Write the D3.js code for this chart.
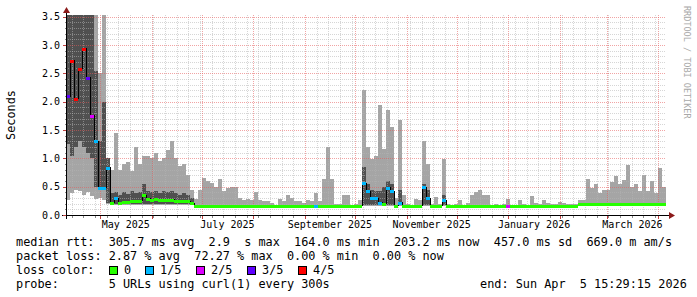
<!DOCTYPE html>
<html>
<head>
<meta charset="utf-8">
<script src="https://cdn.jsdelivr.net/npm/d3@7"></script>
<style>
  body { margin: 0; background: #fff; }
  text { font-family: "DejaVu Sans Mono", monospace; }
</style>
</head>
<body>
<div class="container"></div>
<script>
// Size of frame
const width = 697;
const height = 297;
// Plot box
const plotLeft = 66;
const plotRight = 666;
const plotTop = 15;
const plotBottom = 215;
// Fonts
const axisFont = 10;
const legendFont = 11.85;

// Time window: last 360 days up to the end stamp
const endTime = new Date(2026, 3, 5, 15, 29, 15);
const spanDays = 360;
const yMax = 3.53;

// 150 bins of 2.4 days each, seconds
const smokeHi = [
  3.53, 3.53, 3.53, 3.53, 3.53, 3.53, 3.53, 3.53, 2.5, 3.53,
  1.0, 0.8, 1.45, 0.8, 0.9, 0.93, 0.78, 1.2, 0.9, 1.05,
  1.05, 1.0, 1.1, 0.95, 1.0, 1.15, 1.3, 1.0, 0.86, 0.9,
  0.7, 0.45, 0.28, 0.45, 0.65, 0.6, 0.56, 0.5, 0.64, 0.43,
  0.47, 0.5, 0.5, 0.3, 0.26, 0.28, 0.26, 0.41, 0.26, 0.25,
  0.24, 0.21, 0.17, 0.28, 0.24, 0.35, 0.3, 0.24, 0.25, 0.22,
  0.26, 0.25, 0.38, 0.24, 0.64, 1.2, 0.64, 0.2, 0.2, 0.36,
  0.36, 0.18, 0.2, 0.26, 2.2, 1.2, 0.98, 1.05, 1.95, 1.17,
  1.85, 1.56, 0.3, 1.68, 0.35, 0.2, 0.17, 0.28, 0.26, 1.3,
  0.9, 0.2, 0.32, 0.2, 0.98, 0.2, 0.17, 0.2, 0.26, 0.17,
  0.22, 0.35, 0.4, 0.45, 0.36, 0.35, 0.18, 0.19, 0.18, 0.19,
  0.28, 0.18, 0.17, 0.26, 0.19, 0.18, 0.33, 0.22, 0.2, 0.26,
  0.21, 0.19, 0.2, 0.23, 0.22, 0.19, 0.2, 0.19, 0.26, 0.26,
  0.63, 0.48, 0.55, 0.38, 0.45, 0.45, 0.59, 0.68, 0.55, 0.62,
  0.88, 0.5, 0.55, 0.42, 0.7, 0.42, 0.6, 0.38, 0.83, 0.5
];
// Dark smoke band (0 = none)
const darkHi = [
  3.53, 3.53, 3.53, 3.53, 3.53, 3.53, 3.53, 2.55, 1.3, 2.0,
  1.0, 0.38, 0.4, 0.36, 0.4, 0.37, 0.42, 0.38, 0.4, 0.55,
  0.42, 0.4, 0.42, 0.38, 0.42, 0.4, 0.42, 0.38, 0.36, 0.38,
  0.35, 0.3, 0, 0, 0, 0, 0, 0, 0, 0,
  0, 0, 0, 0, 0, 0, 0, 0, 0, 0,
  0, 0, 0, 0, 0, 0, 0, 0, 0, 0,
  0, 0, 0, 0, 0, 0, 0, 0, 0, 0,
  0, 0, 0, 0, 0.85, 0.55, 0.45, 0.42, 0.42, 0.5,
  0.6, 0.55, 0, 0.45, 0, 0, 0, 0, 0, 0.55,
  0.45, 0, 0, 0, 0.35, 0, 0, 0, 0, 0,
  0, 0, 0, 0, 0, 0, 0, 0, 0, 0,
  0, 0, 0, 0, 0, 0, 0, 0, 0, 0,
  0, 0, 0, 0, 0, 0, 0, 0, 0, 0,
  0, 0, 0, 0, 0, 0, 0, 0, 0, 0,
  0, 0, 0, 0, 0, 0, 0, 0, 0, 0
];
const darkLo = [
  1.25, 1.05, 1.2, 1.3, 1.2, 1.1, 1.0, 0.5, 0.45, 0.45,
  0.22, 0.19, 0.19, 0.19, 0.19, 0.19, 0.19, 0.19, 0.19, 0.19,
  0.19, 0.19, 0.19, 0.19, 0.19, 0.19, 0.19, 0.19, 0.19, 0.19,
  0.19, 0.19, 0, 0, 0, 0, 0, 0, 0, 0,
  0, 0, 0, 0, 0, 0, 0, 0, 0, 0,
  0, 0, 0, 0, 0, 0, 0, 0, 0, 0,
  0, 0, 0, 0, 0, 0, 0, 0, 0, 0,
  0, 0, 0, 0, 0.18, 0.18, 0.18, 0.18, 0.18, 0.18,
  0.18, 0.18, 0, 0.18, 0, 0, 0, 0, 0, 0.18,
  0.18, 0, 0, 0, 0.18, 0, 0, 0, 0, 0,
  0, 0, 0, 0, 0, 0, 0, 0, 0, 0,
  0, 0, 0, 0, 0, 0, 0, 0, 0, 0,
  0, 0, 0, 0, 0, 0, 0, 0, 0, 0,
  0, 0, 0, 0, 0, 0, 0, 0, 0, 0,
  0, 0, 0, 0, 0, 0, 0, 0, 0, 0
];
const smokeLo = [
  0.26, 0.38, 0.45, 0.42, 0.35, 0.4, 0.33, 0.28, 0.3, 0.26,
  0.2, 0.17, 0.17, 0.17, 0.17, 0.17, 0.17, 0.17, 0.17, 0.17,
  0.17, 0.17, 0.17, 0.17, 0.17, 0.17, 0.17, 0.17, 0.17, 0.17,
  0.17, 0.17, 0.155, 0.155, 0.155, 0.155, 0.155, 0.155, 0.155, 0.155,
  0.155, 0.155, 0.155, 0.155, 0.155, 0.155, 0.155, 0.155, 0.155, 0.155,
  0.155, 0.155, 0.155, 0.155, 0.155, 0.155, 0.155, 0.155, 0.155, 0.155,
  0.155, 0.155, 0.155, 0.155, 0.155, 0.155, 0.155, 0.155, 0.155, 0.155,
  0.155, 0.155, 0.155, 0.155, 0.155, 0.155, 0.155, 0.155, 0.155, 0.155,
  0.155, 0.155, 0.155, 0.155, 0.155, 0.155, 0.155, 0.155, 0.155, 0.155,
  0.155, 0.155, 0.155, 0.155, 0.155, 0.155, 0.155, 0.155, 0.155, 0.155,
  0.155, 0.155, 0.155, 0.155, 0.155, 0.155, 0.155, 0.155, 0.155, 0.155,
  0.155, 0.155, 0.155, 0.155, 0.155, 0.155, 0.155, 0.155, 0.155, 0.155,
  0.155, 0.155, 0.155, 0.155, 0.155, 0.155, 0.155, 0.155, 0.185, 0.185,
  0.185, 0.185, 0.185, 0.185, 0.185, 0.185, 0.185, 0.185, 0.185, 0.185,
  0.185, 0.185, 0.185, 0.185, 0.185, 0.185, 0.185, 0.185, 0.185, 0.185
];
const median = [
  2.1, 2.72, 2.05, 2.58, 2.93, 2.42, 1.75, 1.3, 0.48, 0.48,
  0.83, 0.22, 0.3, 0.22, 0.23, 0.23, 0.24, 0.25, 0.25, 0.35,
  0.29, 0.27, 0.28, 0.26, 0.27, 0.26, 0.27, 0.25, 0.24, 0.25,
  0.24, 0.21, 0.165, 0.165, 0.165, 0.165, 0.165, 0.165, 0.165, 0.165,
  0.165, 0.165, 0.165, 0.165, 0.165, 0.165, 0.165, 0.165, 0.165, 0.165,
  0.165, 0.165, 0.165, 0.165, 0.165, 0.165, 0.165, 0.165, 0.165, 0.165,
  0.165, 0.165, 0.165, 0.165, 0.165, 0.165, 0.165, 0.165, 0.165, 0.165,
  0.165, 0.165, 0.165, 0.165, 0.56, 0.42, 0.3, 0.3, 0.22, 0.2,
  0.48, 0.42, 0.165, 0.22, 0.165, 0.165, 0.165, 0.165, 0.165, 0.49,
  0.3, 0.165, 0.165, 0.165, 0.26, 0.165, 0.165, 0.165, 0.165, 0.165,
  0.165, 0.165, 0.165, 0.165, 0.165, 0.165, 0.165, 0.165, 0.165, 0.165,
  0.165, 0.165, 0.165, 0.165, 0.165, 0.165, 0.165, 0.165, 0.165, 0.165,
  0.165, 0.165, 0.165, 0.165, 0.165, 0.165, 0.165, 0.165, 0.2, 0.2,
  0.2, 0.2, 0.2, 0.2, 0.2, 0.2, 0.2, 0.2, 0.2, 0.2,
  0.2, 0.2, 0.2, 0.2, 0.2, 0.2, 0.2, 0.2, 0.2, 0.2
];
// Lost pings out of 5
const loss = [
  3, 4, 4, 4, 4, 3, 2, 1, 1, 1,
  1, 0, 1, 0, 0, 0, 0, 0, 0, 0,
  0, 0, 0, 0, 0, 0, 0, 0, 0, 0,
  0, 0, 0, 0, 0, 0, 0, 0, 0, 0,
  0, 0, 0, 0, 0, 0, 0, 0, 0, 0,
  0, 0, 0, 0, 0, 0, 0, 0, 0, 0,
  0, 0, 1, 0, 0, 0, 0, 0, 0, 0,
  0, 0, 0, 0, 1, 1, 1, 1, 1, 0,
  1, 1, 0, 1, 0, 0, 0, 0, 0, 1,
  1, 0, 0, 0, 1, 0, 0, 0, 0, 0,
  0, 0, 0, 0, 0, 0, 0, 0, 0, 0,
  2, 0, 0, 0, 0, 0, 0, 0, 0, 0,
  0, 0, 0, 0, 0, 0, 0, 0, 0, 0,
  0, 0, 0, 0, 0, 0, 0, 0, 0, 0,
  0, 0, 0, 0, 0, 0, 0, 0, 0, 0
];

const lossColors = ['#26ff00', '#00b8ff', '#dd00ff', '#5e00ff', '#ff0000'];
const lossLabels = ['0', '1/5', '2/5', '3/5', '4/5'];
const statLines = [
  'median rtt:  305.7 ms avg  2.9  s max  164.0 ms min  203.2 ms now  457.0 ms sd  669.0 m am/s',
  'packet loss: 2.87 % avg  72.27 % max  0.00 % min  0.00 % now',
  'loss color:',
  'probe:       5 URLs using curl(1) every 300s'
];
const yTitle = 'Seconds';
const watermark = 'RRDTOOL / TOBI OETIKER';

const lightSmoke = '#a5a5a5';
const darkSmoke = '#505050';
const minorGrid = 'rgba(180,180,180,0.55)';
const majorGrid = 'rgba(230,90,90,0.55)';
const arrowColor = '#8b1a1a';

function crisp(v) {
  return Math.round(v) + 0.5;
}

function draw() {
  const startTime = new Date(endTime.getTime() - spanDays * 864e5);
  const binMs = (endTime - startTime) / median.length;
  const binTime = i => new Date(startTime.getTime() + i * binMs);

  const x = d3.scaleTime().domain([startTime, endTime]).range([plotLeft, plotRight]);
  const y = d3.scaleLinear().domain([0, yMax]).range([plotBottom, plotTop]);

  const bins = median.map((m, i) => ({
    x0: x(binTime(i)), x1: x(binTime(i + 1)),
    hi: smokeHi[i], dHi: darkHi[i], dLo: darkLo[i], lo: smokeLo[i],
    med: m, loss: loss[i]
  }));

  const svg = d3.select('.container')
    .append('svg')
    .attr('width', width)
    .attr('height', height);

  svg.append('rect').attr('width', width).attr('height', height).attr('fill', '#fff');

  const plot = svg.append('g').attr('shape-rendering', 'crispEdges');

  // smoke
  plot.selectAll('.smoke')
    .data(bins.filter(d => d.hi > d.lo))
    .enter()
    .append('rect')
    .attr('x', d => d.x0)
    .attr('width', d => d.x1 - d.x0)
    .attr('y', d => y(d.hi))
    .attr('height', d => y(d.lo) - y(d.hi))
    .attr('fill', lightSmoke);

  plot.selectAll('.dark')
    .data(bins.filter(d => d.dHi > d.dLo))
    .enter()
    .append('rect')
    .attr('x', d => d.x0)
    .attr('width', d => d.x1 - d.x0)
    .attr('y', d => y(d.dHi))
    .attr('height', d => y(d.dLo) - y(d.dHi))
    .attr('fill', darkSmoke);

  // grid, drawn over the smoke like rrdtool does
  const grid = svg.append('g').attr('stroke-dasharray', '1,1').attr('stroke-width', 1);
  const majorY = y.ticks(7);
  const isMajor = v => majorY.some(m => Math.abs(m - v) < 1e-6);
  const minorY = y.ticks(35).filter(v => !isMajor(v));
  const months = d3.timeMonth.range(startTime, endTime);
  const weeks = d3.timeMonday.range(startTime, endTime)
    .filter(w => !months.some(m => +m === +w));

  grid.selectAll('.minor-y').data(minorY).enter().append('line')
    .attr('x1', plotLeft).attr('x2', plotRight)
    .attr('y1', d => crisp(y(d))).attr('y2', d => crisp(y(d)))
    .attr('stroke', minorGrid);
  grid.selectAll('.minor-x').data(weeks).enter().append('line')
    .attr('x1', d => crisp(x(d))).attr('x2', d => crisp(x(d)))
    .attr('y1', plotTop).attr('y2', plotBottom)
    .attr('stroke', minorGrid);
  grid.selectAll('.major-y').data(majorY.filter(v => v > 0)).enter().append('line')
    .attr('x1', plotLeft).attr('x2', plotRight)
    .attr('y1', d => crisp(y(d))).attr('y2', d => crisp(y(d)))
    .attr('stroke', majorGrid);
  grid.selectAll('.major-x').data(months).enter().append('line')
    .attr('x1', d => crisp(x(d))).attr('x2', d => crisp(x(d)))
    .attr('y1', plotTop).attr('y2', plotBottom)
    .attr('stroke', majorGrid);

  // median: black step line, then loss coloured segments
  const pts = bins.map(d => [d.x0, y(d.med)]);
  pts.push([bins[bins.length - 1].x1, y(bins[bins.length - 1].med)]);
  svg.append('path')
    .attr('d', d3.line().curve(d3.curveStepAfter)(pts))
    .attr('fill', 'none')
    .attr('stroke', '#000')
    .attr('stroke-width', 1)
    .attr('shape-rendering', 'crispEdges');

  svg.append('g').attr('shape-rendering', 'crispEdges')
    .selectAll('.med')
    .data(bins)
    .enter()
    .append('rect')
    .attr('x', d => d.x0)
    .attr('width', d => d.x1 - d.x0)
    .attr('y', d => Math.round(y(d.med)) - 1)
    .attr('height', 3)
    .attr('fill', d => lossColors[d.loss]);

  // axes
  const axes = svg.append('g').attr('shape-rendering', 'crispEdges');
  axes.append('line').attr('x1', 62).attr('x2', 670)
    .attr('y1', plotBottom + 0.5).attr('y2', plotBottom + 0.5).attr('stroke', '#000');
  axes.append('line').attr('x1', plotLeft + 0.5).attr('x2', plotLeft + 0.5)
    .attr('y1', plotBottom + 4).attr('y2', 11).attr('stroke', '#000');

  axes.selectAll('.ty').data(y.ticks(35)).enter().append('line')
    .attr('x1', d => isMajor(d) ? plotLeft - 3 : plotLeft - 1)
    .attr('x2', plotLeft)
    .attr('y1', d => crisp(y(d))).attr('y2', d => crisp(y(d)))
    .attr('stroke', d => isMajor(d) ? '#c04040' : '#888');
  axes.selectAll('.tx').data(weeks.concat(months)).enter().append('line')
    .attr('x1', d => crisp(x(d))).attr('x2', d => crisp(x(d)))
    .attr('y1', plotBottom + 1)
    .attr('y2', d => months.includes(d) ? plotBottom + 4 : plotBottom + 3)
    .attr('stroke', d => months.includes(d) ? '#c04040' : '#888');

  svg.append('path')
    .attr('d', `M${plotLeft - 3},13L${plotLeft + 4},13L${plotLeft + 0.5},7Z`)
    .attr('fill', arrowColor);
  svg.append('path')
    .attr('d', 'M669,212L669,219L675,215.5Z')
    .attr('fill', arrowColor);

  // tick labels
  const fmt = d3.format('.1f');
  svg.selectAll('.ylab').data(majorY).enter().append('text')
    .attr('x', 60).attr('y', d => y(d)).attr('dy', '0.36em')
    .attr('text-anchor', 'end')
    .attr('font-size', axisFont)
    .text(fmt);

  const labelMonths = months.filter(m => m.getMonth() % 2 === 0);
  const monthFmt = d3.timeFormat('%B %Y');
  svg.selectAll('.xlab').data(labelMonths).enter().append('text')
    .attr('x', d => (x(d) + x(d3.timeMonth.offset(d, 1))) / 2)
    .attr('y', 228)
    .attr('text-anchor', 'middle')
    .attr('font-size', axisFont)
    .text(monthFmt);

  svg.append('text')
    .attr('transform', `translate(15,${(plotTop + plotBottom) / 2}) rotate(-90)`)
    .attr('text-anchor', 'middle')
    .attr('font-size', legendFont)
    .text(yTitle);

  svg.append('text')
    .attr('transform', 'translate(684,6) rotate(90)')
    .attr('font-size', 8.5)
    .attr('fill', '#a8a8a8')
    .text(watermark);

  // legend
  const adv = legendFont * 0.602;
  const legendX = 16;
  const rows = [246, 260, 274, 288];
  svg.selectAll('.stat').data(statLines).enter().append('text')
    .attr('x', legendX)
    .attr('y', (d, i) => rows[i])
    .attr('font-size', legendFont)
    .attr('xml:space', 'preserve')
    .style('white-space', 'pre')
    .text(d => d);

  let bx = Math.round(legendX + 13 * adv);
  lossLabels.forEach((lab, i) => {
    svg.append('rect')
      .attr('x', bx + 0.5).attr('y', rows[2] - 7.5)
      .attr('width', 8).attr('height', 8)
      .attr('fill', lossColors[i])
      .attr('stroke', '#000')
      .attr('shape-rendering', 'crispEdges');
    svg.append('text')
      .attr('x', bx + 15).attr('y', rows[2])
      .attr('font-size', legendFont)
      .text(lab);
    bx = Math.round(bx + 15 + (lab.length + 2) * adv);
  });

  svg.append('text')
    .attr('x', 480).attr('y', rows[3])
    .attr('font-size', legendFont)
    .attr('xml:space', 'preserve')
    .style('white-space', 'pre')
    .text('end: ' + d3.timeFormat('%a %b %e %H:%M:%S %Y')(endTime));
}

draw();
</script>
</body>
</html>
